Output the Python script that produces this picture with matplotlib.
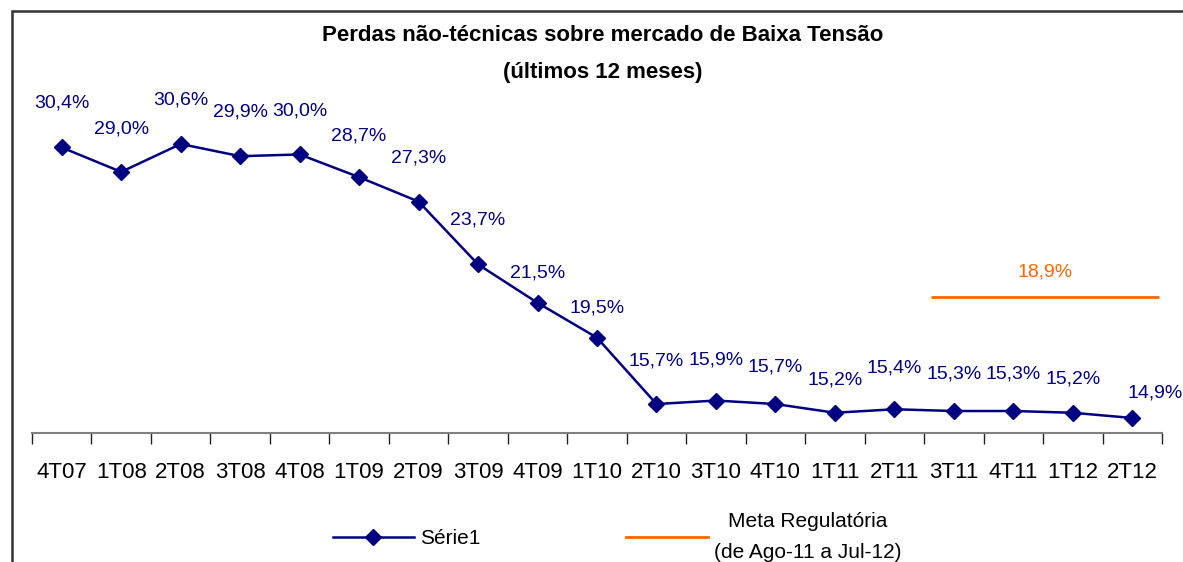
import matplotlib.pyplot as plt
from matplotlib.patches import Rectangle
from matplotlib.lines import Line2D

plt.rcParams['font.family'] = ['Liberation Sans', 'DejaVu Sans']

# data
quarters = ['4T07', '1T08', '2T08', '3T08', '4T08', '1T09', '2T09', '3T09', '4T09', '1T10',
            '2T10', '3T10', '4T10', '1T11', '2T11', '3T11', '4T11', '1T12', '2T12']
perdas = [30.4, 29.0, 30.6, 29.9, 30.0, 28.7, 27.3, 23.7, 21.5, 19.5,
          15.7, 15.9, 15.7, 15.2, 15.4, 15.3, 15.3, 15.2, 14.9]
meta_valor = 18.9
meta_inicio, meta_fim = '3T11', '2T12'

# label placement (pixels above the point)
label_dy = [44, 43, 44, 44, 43, 41, 44, 44, 30, 30, 43, 41, 37, 33, 41, 37, 37, 34, 25]

navy = '#000080'
orange = '#FF6600'

fig = plt.figure(figsize=(11.83, 5.62), dpi=100)
W, H = 1183, 562
ax = fig.add_axes([32 / W, (H - 433) / H, (1162 - 32) / W, (433 - 100) / H])

x = list(range(len(quarters)))
ax.plot(x, perdas, color=navy, lw=1.8, marker='D', ms=8, mfc=navy, mec=navy)
for i, v in enumerate(perdas):
    dx = 23 if i == len(perdas) - 1 else 0
    ax.annotate(f'{v:.1f}%'.replace('.', ','), (i, v), xytext=(dx, label_dy[i]),
                textcoords='offset pixels', ha='center', va='center',
                fontsize=14, color=navy)

ax.set_xlim(-0.5, len(quarters) - 0.5)
ax.set_ylim(14.04, 33.12)
ax.set_xticks([i - 0.5 for i in range(len(quarters) + 1)])
ax.set_xticklabels([])
ax.set_xticks(x, minor=True)
ax.set_xticklabels(quarters, minor=True, fontsize=16)
ax.tick_params(axis='x', which='major', length=8, width=1, color='#222222', direction='out')
ax.tick_params(axis='x', which='minor', length=0, pad=21)
ax.set_yticks([])
for s in ['left', 'right', 'top']:
    ax.spines[s].set_visible(False)
ax.spines['bottom'].set_color('#808080')
ax.spines['bottom'].set_linewidth(1.5)

# meta regulatoria on secondary axis
ax2 = ax.twinx()
ax2.set_ylim(0, 46.28)
ax2.set_yticks([])
for s in ax2.spines.values():
    s.set_visible(False)
i0, i1 = quarters.index(meta_inicio), quarters.index(meta_fim)
ax2.hlines(meta_valor, i0 - 0.38, i1 + 0.45, color=orange, lw=2)
ax2.annotate(f'{meta_valor:.1f}%'.replace('.', ','), ((i0 - 0.38 + i1 + 0.45) / 2, meta_valor),
             xytext=(0, 25), textcoords='offset pixels', ha='center', va='center',
             fontsize=14, color=orange)

fig.text(603 / W, 1 - 54 / H, 'Perdas não-técnicas sobre mercado de Baixa Tensão\n(últimos 12 meses)',
         ha='center', va='center', fontsize=16, fontweight='bold', linespacing=2.05)

handles = [Line2D([], [], color=navy, lw=1.8, marker='D', ms=8),
           Line2D([], [], color=orange, lw=2)]
leg = fig.legend(handles, ['Série1', 'Meta Regulatória\n(de Ago-11 a Jul-12)'],
                 ncol=2, loc='center', bbox_to_anchor=(617 / W, 1 - 537 / H),
                 frameon=False, fontsize=15, handlelength=3.9, columnspacing=7.0,
                 handletextpad=0.3)
for t in leg.get_texts():
    t.set_multialignment('center')
    t.set_linespacing(1.75)

fig.patches.append(Rectangle((12 / W, -0.1), 1.2, 1.1 - 11 / H, transform=fig.transFigure,
                             fill=False, ec='#333333', lw=1.8))

fig.savefig('out.png', dpi=100)
